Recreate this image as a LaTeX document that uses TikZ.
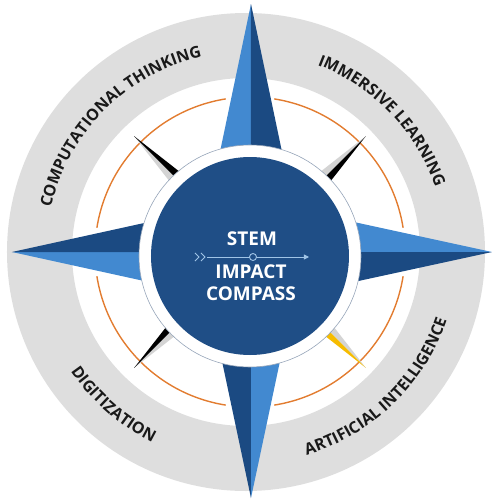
\documentclass[tikz,border=0pt]{standalone}
\usepackage{fontspec}
\setmainfont{Open Sans}
\usetikzlibrary{decorations.text,arrows.meta}
\definecolor{ringgray}{RGB}{222,222,222}
\definecolor{lightblue}{RGB}{66,137,208}
\definecolor{darkblue}{RGB}{27,74,130}
\definecolor{discblue}{RGB}{31,78,134}
\definecolor{compassorange}{RGB}{226,124,48}
\definecolor{needlegray}{RGB}{212,212,212}
\definecolor{needlegold}{RGB}{246,188,0}
\definecolor{arrowblue}{RGB}{160,196,230}
\definecolor{textdark}{RGB}{25,25,25}
\definecolor{rimgray}{RGB}{150,165,185}
\tikzset{
  ringtext/.style={decorate, decoration={text along path, text align=center,
      text={|\bfseries\fontsize{16}{16}\selectfont\color{textdark}|#1}}},
  centertext/.style={text=white, font=\bfseries\fontsize{19}{19}\selectfont, inner sep=0pt, anchor=center},
  orangearc/.style={compassorange, line width=1.4pt},
}
\begin{document}
\begin{tikzpicture}[x=1pt,y=1pt]
\useasboundingbox (-250,-247) rectangle (246,252);
% outer gray ring
\fill[ringgray, even odd rule] (-4,0) circle (239pt) (-4,0) circle (174pt);
% ring texts
\begin{scope}[shift={(-4,0)}]
\path[ringtext={COMPUTATIONAL THINKING}] (180:200pt) arc[start angle=180, end angle=90, radius=200pt];
\path[ringtext={IMMERSIVE LEARNING}] (88:200pt) arc[start angle=88, end angle=0, radius=200pt];
\path[ringtext={ARTIFICIAL INTELLIGENCE}] (-92:212pt) arc[start angle=-92, end angle=0, radius=212pt];
\path[ringtext={DIGITIZATION}] (184:212pt) arc[start angle=184, end angle=274, radius=212pt];
\end{scope}
% orange arcs
\foreach \s in {9,99,189,279}
  \draw[orangearc] (\s:155pt) arc[start angle=\s, end angle=\s+72, radius=155pt];
% needles
\foreach \a/\c in {45/black,135/black,225/black,-45/needlegold}{
  \begin{scope}[rotate=\a]
    \fill[needlegray] (164,0) -- (98,0) -- (98,8) -- cycle;
    \fill[\c] (164,0) -- (98,0) -- (98,-8) -- cycle;
  \end{scope}
}
% main arms
\begin{scope}[shift={(1,0)}]
\foreach \a/\L in {90/248,0/241,270/246,180/239}{
  \begin{scope}[rotate=\a]
    \fill[lightblue] (\L,0) -- (0,0) -- (43,43) -- cycle;
    \fill[darkblue] (\L,0) -- (0,0) -- (43,-43) -- cycle;
  \end{scope}
}
\end{scope}
% central disc
\fill[white] (0,-4) circle (111pt);
\draw[rimgray, line width=0.6pt] (0,-4) circle (111pt);
\fill[discblue] (0,-4) circle (99pt);
% center arrow
\coordinate (arrowstart) at (-43,-5);
\coordinate (arrowend) at (59,-5);
\draw[arrowblue, line width=0.9pt, -{Triangle[length=5pt,width=5pt]}] (arrowstart) -- (arrowend);
\draw[arrowblue, line width=0.9pt] (-55,-1) -- (-51,-5) -- (-55,-9);
\draw[arrowblue, line width=0.9pt] (-49,-1) -- (-45,-5) -- (-49,-9);
\node[circle, draw=arrowblue, fill=discblue, line width=0.9pt, minimum size=7pt, inner sep=0pt] (hub) at (3,-5) {};
% center text
\node[centertext] (stem) at (2,13) {STEM};
\node[centertext] (impact) at (1,-20) {IMPACT};
\node[centertext] (compass) at (1,-42) {COMPASS};
\end{tikzpicture}
\end{document}
